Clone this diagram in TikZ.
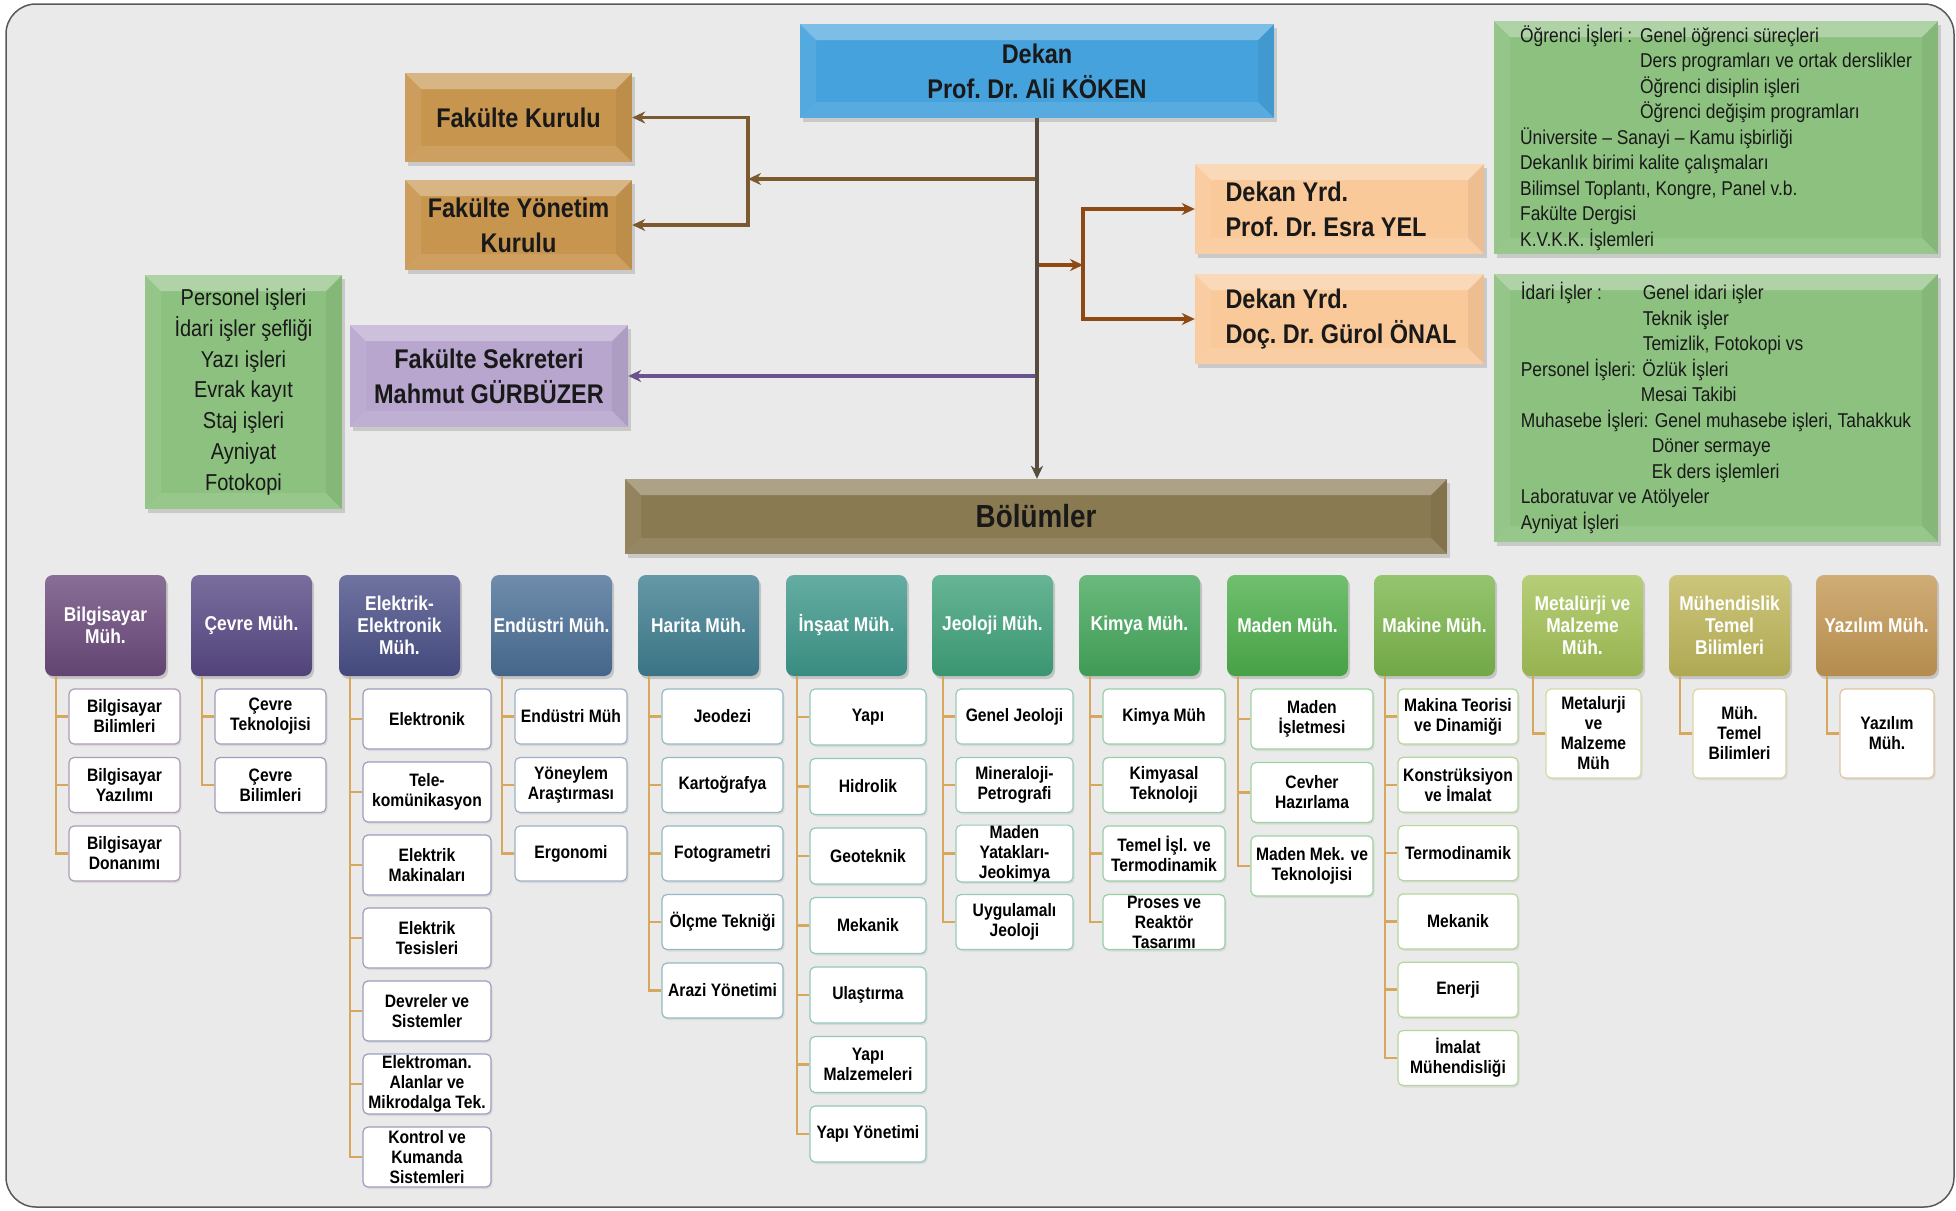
\documentclass[tikz,border=0pt]{standalone}
\usepackage{fontspec}
\setmainfont[FakeStretch=0.87]{Liberation Sans}
\usetikzlibrary{arrows.meta,positioning,shadows}

\definecolor{zemin}{HTML}{EAEAEA}
\definecolor{kurulc}{HTML}{C8954F}
\definecolor{dekanc}{HTML}{46A2DC}
\definecolor{yrdc}{HTML}{F9C99A}
\definecolor{islerc}{HTML}{8DC180}
\definecolor{sekreterc}{HTML}{B8A6CE}
\definecolor{bolumc}{HTML}{8A7A52}
\definecolor{kahve}{HTML}{7A5A2E}
\definecolor{turuncu}{HTML}{8E4A12}
\definecolor{govde}{HTML}{574C3E}
\definecolor{mor}{HTML}{6A5490}
\definecolor{agac}{HTML}{D6A75C}
\definecolor{bilg}{HTML}{6B4A7C}
\definecolor{cevre}{HTML}{584985}
\definecolor{elek}{HTML}{4A5088}
\definecolor{endu}{HTML}{4B6F96}
\definecolor{harita}{HTML}{3F7E90}
\definecolor{insaat}{HTML}{3E988B}
\definecolor{jeo}{HTML}{40A27A}
\definecolor{kimya}{HTML}{45A85C}
\definecolor{maden}{HTML}{4DAF4B}
\definecolor{makine}{HTML}{7BB64B}
\definecolor{metal}{HTML}{A4C256}
\definecolor{temel}{HTML}{BFB75A}
\definecolor{yazilim}{HTML}{C49854}

\tikzset{
  bevel/.style={fill=#1, inner sep=0pt, text=black!90,
    drop shadow={opacity=.3, shadow xshift=3pt, shadow yshift=-4pt},
    path picture={
      \fill[white,opacity=.3] (path picture bounding box.north west) -- (path picture bounding box.north east)
        -- ([shift={(-16pt,-16pt)}]path picture bounding box.north east) -- ([shift={(16pt,-16pt)}]path picture bounding box.north west) -- cycle;
      \fill[white,opacity=.08] (path picture bounding box.north west) -- ([shift={(16pt,-16pt)}]path picture bounding box.north west)
        -- ([shift={(16pt,16pt)}]path picture bounding box.south west) -- (path picture bounding box.south west) -- cycle;
      \fill[black,opacity=.05] (path picture bounding box.north east) -- ([shift={(-16pt,-16pt)}]path picture bounding box.north east)
        -- ([shift={(-16pt,16pt)}]path picture bounding box.south east) -- (path picture bounding box.south east) -- cycle;
      \fill[white,opacity=.1] (path picture bounding box.south west) -- ([shift={(16pt,16pt)}]path picture bounding box.south west)
        -- ([shift={(-16pt,16pt)}]path picture bounding box.south east) -- (path picture bounding box.south east) -- cycle;
    }}
}

\begin{document}
\begin{tikzpicture}[
    x=1pt, y=-1pt,
    title/.style={font=\bfseries\fontsize{27}{35}\selectfont\frenchspacing},
    deptbox/.style={rounded corners=8pt, top color=#1!80!white, bottom color=#1!92!black,
      minimum width=121pt, minimum height=101pt, inner sep=0pt, text=white, align=center,
      font=\bfseries\fontsize{20}{22}\selectfont,
      drop shadow={opacity=.35, shadow xshift=2pt, shadow yshift=-3pt}},
    subbox/.style={draw=#1!55!white, line width=1.2pt, fill=white, rounded corners=5pt,
      inner sep=0pt, align=center, font=\bfseries\fontsize{18}{20}\selectfont,
      drop shadow={opacity=.15, shadow xshift=1.5pt, shadow yshift=-2pt}},
    link/.style={line width=3.5pt, >={Stealth[length=13pt,width=12pt]}},
    tree/.style={draw=agac, line width=2.5pt}
  ]

  \useasboundingbox (0,0) rectangle (1956,1210);
  \draw[draw=black!65, line width=1.5pt, fill=zemin, rounded corners=30pt] (6,4) rectangle (1954,1207);

  % Top boxes
  \node[bevel=dekanc, title, minimum width=474pt, minimum height=94pt, align=center] (dekan) at (1037,71)
    {Dekan\\Prof. Dr. Ali KÖKEN};
  \node[bevel=kurulc, title, minimum width=227pt, minimum height=89pt] (kurul) at (518.5,117.5) {Fakülte Kurulu};
  \node[bevel=kurulc, title, minimum width=227pt, minimum height=90pt, align=center] (yonetim) at (518.5,225)
    {Fakülte Yönetim\\Kurulu};
  \node[bevel=yrdc, title, minimum width=289pt, minimum height=90pt, text width=252pt, align=flush left] (yrd1) at (1339.5,209)
    {\hspace*{12pt}Dekan Yrd.\\\hspace*{12pt}Prof. Dr. Esra YEL};
  \node[bevel=yrdc, title, minimum width=289pt, minimum height=90pt, text width=252pt, align=flush left] (yrd2) at (1339.5,319)
    {\hspace*{12pt}Dekan Yrd.\\\hspace*{12pt}Doç. Dr. Gürol ÖNAL};
  \node[bevel=sekreterc, title, minimum width=278pt, minimum height=102pt, align=center] (sekreter) at (489,376)
    {Fakülte Sekreteri\\Mahmut GÜRBÜZER};
  \node[bevel=islerc, minimum width=197pt, minimum height=234pt, align=center,
    font=\fontsize{23}{30.7}\selectfont] (personel) at (243.5,392)
    {Personel işleri\\İdari işler şefliği\\Yazı işleri\\Evrak kayıt\\Staj işleri\\Ayniyat\\Fotokopi};
  \node[bevel=bolumc, minimum width=822pt, minimum height=75pt, font=\bfseries\fontsize{32}{36}\selectfont] (bolumler)
    at (1036,516.5) {Bölümler};

  % Task lists
  \node[bevel=islerc, minimum width=444pt, minimum height=233pt, align=left,
    font=\fontsize{20}{25.5}\selectfont] (ogrenci) at (1716,137.5)
    {\makebox[120pt][l]{Öğrenci İşleri :}Genel öğrenci süreçleri\\
     \hspace*{120pt}Ders programları ve ortak derslikler\\
     \hspace*{120pt}Öğrenci disiplin işleri\\
     \hspace*{120pt}Öğrenci değişim programları\\
     Üniversite -- Sanayi -- Kamu işbirliği\\
     Dekanlık birimi kalite çalışmaları\\
     Bilimsel Toplantı, Kongre, Panel v.b.\\
     Fakülte Dergisi\\
     K.V.K.K. İşlemleri};
  \node[bevel=islerc, minimum width=444pt, minimum height=268pt, align=left,
    font=\fontsize{20}{25.5}\selectfont] (idari) at (1716,408)
    {\makebox[122pt][l]{İdari İşler :}Genel idari işler\\
     \hspace*{122pt}Teknik işler\\
     \hspace*{122pt}Temizlik, Fotokopi vs\\
     Personel İşleri: Özlük İşleri\\
     \hspace*{120pt}Mesai Takibi\\
     Muhasebe İşleri: Genel muhasebe işleri, Tahakkuk\\
     \hspace*{131pt}Döner sermaye\\
     \hspace*{131pt}Ek ders işlemleri\\
     Laboratuvar ve Atölyeler\\
     Ayniyat İşleri};

  % Connectors
  \coordinate (kurulkol) at (748,179);
  \coordinate (yrdkol) at (1083,265);
  \draw[link, draw=kahve, <->] (kurul) -| (kurulkol) |- (yonetim);
  \draw[link, draw=kahve, ->] (dekan.south |- kurulkol) -- (kurulkol);
  \draw[link, draw=turuncu, <->] (yrd1) -| (yrdkol) |- (yrd2);
  \draw[link, draw=turuncu, ->] (dekan.south |- yrdkol) -- (yrdkol);
  \draw[link, draw=mor, ->] (dekan.south |- sekreter) -- (sekreter);
  \draw[link, draw=govde, ->] (dekan.south) -- (dekan.south |- bolumler.north);

  % Departments
  \foreach \i/\x/\col/\name/\bw/\bh/\gap/\subs in {
    1/105.5/bilg/{Bilgisayar\\Müh.}/111/55/68.5/{{Bilgisayar\\Bilimleri},{Bilgisayar\\Yazılımı},{Bilgisayar\\Donanımı}},
    2/251.5/cevre/{Çevre Müh.}/111/55/68.5/{{Çevre\\Teknolojisi},{Çevre\\Bilimleri}},
    3/399.5/elek/{Elektrik-\\Elektronik\\Müh.}/128/60/73/{{Elektronik},{Tele-\\komünikasyon},{Elektrik\\Makinaları},{Elektrik\\Tesisleri},{Devreler ve\\Sistemler},{Elektroman.\\Alanlar ve\\Mikrodalga Tek.},{Kontrol ve\\Kumanda\\Sistemleri}},
    4/551.5/endu/{Endüstri Müh.}/112/55/68.5/{{Endüstri Müh},{Yöneylem\\Araştırması},{Ergonomi}},
    5/698.5/harita/{Harita Müh.}/121/55/68.5/{{Jeodezi},{Kartoğrafya},{Fotogrametri},{Ölçme Tekniği},{Arazi Yönetimi}},
    6/846.5/insaat/{İnşaat Müh.}/116/56/69.5/{{Yapı},{Hidrolik},{Geoteknik},{Mekanik},{Ulaştırma},{Yapı\\Malzemeleri},{Yapı Yönetimi}},
    7/992.5/jeo/{Jeoloji Müh.}/117/55/68.5/{{Genel Jeoloji},{Mineraloji-\\Petrografi},{Maden\\Yatakları-\\Jeokimya},{Uygulamalı\\Jeoloji}},
    8/1139.5/kimya/{Kimya Müh.}/122/55/68.5/{{Kimya Müh},{Kimyasal\\Teknoloji},{Temel İşl. ve\\Termodinamik},{Proses ve\\Reaktör\\Tasarımı}},
    9/1287.5/maden/{Maden Müh.}/122/60/73.5/{{Maden\\İşletmesi},{Cevher\\Hazırlama},{Maden Mek. ve\\Teknolojisi}},
    10/1434.5/makine/{Makine Müh.}/120/55/68.3/{{Makina Teorisi\\ve Dinamiği},{Konstrüksiyon\\ve İmalat},{Termodinamik},{Mekanik},{Enerji},{İmalat\\Mühendisliği}},
    11/1582.5/metal/{Metalürji ve\\Malzeme\\Müh.}/95/89/0/{{Metalurji\\ve\\Malzeme\\Müh}},
    12/1729.5/temel/{Mühendislik\\Temel\\Bilimleri}/93/89/0/{{Müh.\\Temel\\Bilimleri}},
    13/1876.5/yazilim/{Yazılım Müh.}/94/89/0/{{Yazılım\\Müh.}}}
  {
    \node[deptbox=\col] (d\i) at (\x,625.5) {\name};
    \foreach \s [count=\k] in \subs {
      \node[subbox=\col, minimum width=\bw pt, minimum height=\bh pt] (d\i-\k)
        at (\x-36.5+\bw/2, 689+\bh/2+\gap*\k-\gap) {\s};
      \draw[tree] ([xshift=11pt]d\i.south west) |- (d\i-\k.west);
    }
  }

\end{tikzpicture}
\end{document}
